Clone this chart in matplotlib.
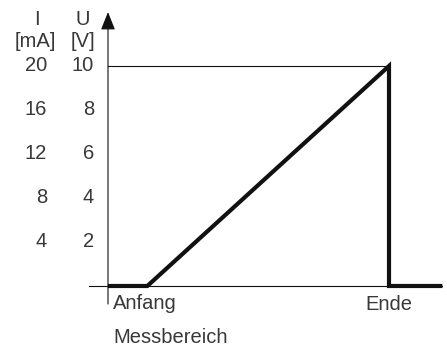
import matplotlib
matplotlib.use('Agg')

import matplotlib.pyplot as plt

# Kennlinie des Ausgangssignals (x: Anteil des Messbereichs, U in V)
signal_x = [0.0, 0.14, 1.0, 1.0, 1.19]
signal_u = [0.0, 0.0, 10.0, 0.0, 0.0]

u_ticks = [2, 4, 6, 8, 10]
i_ticks = [4, 8, 12, 16, 20]
u_labels = ['2', '4', '6', '8', '10']
i_labels = ['4', '8', '12', '16', '20']

TEXT = '#383838'
LINE = '#111111'

plt.rcParams['font.family'] = ['Liberation Sans', 'DejaVu Sans']

fig = plt.figure(figsize=(4.47, 3.49), dpi=100)
ax = fig.add_axes([0, 0, 1, 1])
ax.set_xlim(-0.3843, 1.2064)
ax.set_ylim(-2.864, 13.0)
ax.axis('off')

# Achsen
ax.plot([-0.068, 1.19], [0, 0], color=LINE, lw=0.8)
ax.plot([0, 1.0], [10, 10], color=LINE, lw=0.8)
ax.annotate('', xy=(0, 12.45), xytext=(0, -0.82),
            arrowprops=dict(arrowstyle='-|>,head_length=0.5,head_width=0.2',
                            color=LINE, lw=0.8,
                            mutation_scale=22, shrinkA=0, shrinkB=0))

# Signal
ax.plot(signal_x, signal_u, color=LINE, lw=3, solid_joinstyle='miter',
        solid_capstyle='butt')

# Skalen
fs = 14.5
for u, lab in zip(u_ticks, u_labels):
    ax.text(-0.05, u, lab, ha='right', va='center', fontsize=fs, color=TEXT)
for i, lab in zip(i_ticks, i_labels):
    ax.text(-0.217, i / 2, lab, ha='right', va='center', fontsize=fs, color=TEXT)

ax.text(-0.254, 12.1, 'I', ha='center', va='center', fontsize=fs, color=TEXT)
ax.text(-0.257, 11.1, '[mA]', ha='center', va='center', fontsize=fs, color=TEXT)
ax.text(-0.091, 12.1, 'U', ha='center', va='center', fontsize=fs, color=TEXT)
ax.text(-0.089, 11.1, '[V]', ha='center', va='center', fontsize=fs, color=TEXT)

ax.text(0.018, -0.8, 'Anfang', ha='left', va='center', fontsize=fs, color=TEXT)
ax.text(1.0, -0.85, 'Ende', ha='center', va='center', fontsize=fs, color=TEXT)
ax.text(0.018, -2.36, 'Messbereich', ha='left', va='center', fontsize=fs, color=TEXT)

fig.savefig('out.png', dpi=100)
